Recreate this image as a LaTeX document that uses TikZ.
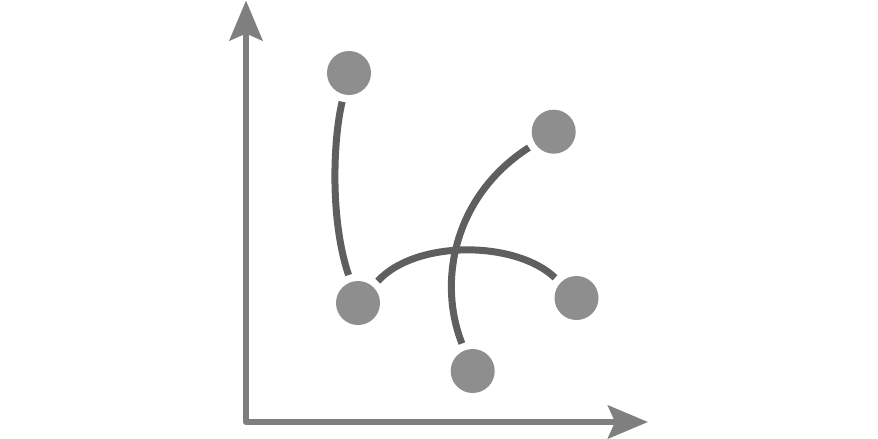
\documentclass[tikz,border=0pt]{standalone}
\usetikzlibrary{arrows.meta}
\definecolor{axisgray}{HTML}{7F7F7F}
\definecolor{dotgray}{HTML}{8E8E8E}
\definecolor{linkgray}{HTML}{5F5F5F}
\begin{document}
\begin{tikzpicture}[x=1pt,y=-1pt,
  dot/.style={circle,fill=dotgray,inner sep=0pt,minimum size=44pt,outer sep=7.5pt},
  link/.style={draw=linkgray,line width=7pt,line cap=butt},
  axisline/.style={draw=axisgray,line width=6pt,line join=round,
    {Stealth[length=40pt,width=33pt,inset=7pt]}-{Stealth[length=40pt,width=33pt,inset=7pt]}}]
\useasboundingbox (0,0) rectangle (878,439);
\coordinate (ytip) at (246,0.5);
\coordinate (origin) at (246,422);
\coordinate (xtip) at (648,422);
\draw[axisline] (ytip) -- (origin) -- (xtip);
\node[dot] (A) at (349,73) {};
\node[dot] (B) at (553.7,131.7) {};
\node[dot] (C) at (358,303) {};
\node[dot] (D) at (472.7,371) {};
\node[dot] (E) at (576.5,298) {};
\draw[link] (A) .. controls (333,140) and (330,220) .. (C);
\draw[link] (C) .. controls (415,240) and (515,240) .. (E);
\draw[link] (B) .. controls (455,195) and (437,280) .. (D);
\end{tikzpicture}
\end{document}
